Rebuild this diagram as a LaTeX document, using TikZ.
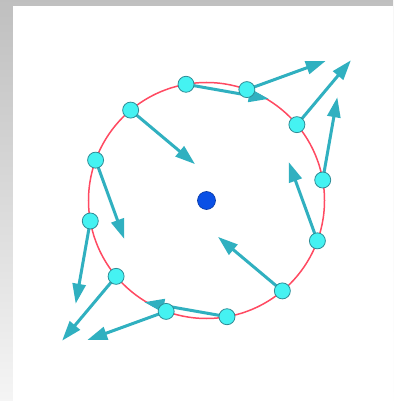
\documentclass[tikz,border=0pt]{standalone}
\usepackage{tikz}
\usetikzlibrary{arrows.meta,calc}
\definecolor{ring}{HTML}{FF4A62}
\definecolor{vec}{HTML}{30B0C0}
\definecolor{dotfill}{HTML}{45F2F2}
\definecolor{dotline}{HTML}{2E8C96}
\definecolor{core}{HTML}{0A50E6}
\tikzset{vecarrow/.style={-{Triangle[length=20pt,width=13pt]},draw=vec,line width=3pt},ringline/.style={draw=ring,line width=1.5pt},samplept/.style={circle,draw=dotline,fill=dotfill,line width=.8pt,minimum size=16pt,inner sep=0pt},centre/.style={circle,draw=core!70!black,fill=core,line width=.6pt,minimum size=18pt,inner sep=0pt}}
\begin{document}
\begin{tikzpicture}[x=1pt,y=1pt]
\useasboundingbox (-206.5,-200.5) rectangle (186.5,200.5);
\shade[top color=gray!50,bottom color=gray!8] (-206.5,-200.5) rectangle (186.5,200.5);\fill[white] (-193.5,-200.5) rectangle (186.5,194.5);
\draw[ringline] (0,0) circle (118);
\node[centre] (c) at (0,0) {};
% field (y,x) sampled on the circle
\foreach \a in {10,40,...,340}{\coordinate (p\a) at (\a:118);\coordinate (t\a) at ({118*cos(\a)+84*sin(\a)},{118*sin(\a)+84*cos(\a)});\draw[vecarrow] (p\a)--(t\a);}
\foreach \a in {10,40,...,340}{\node[samplept] (s\a) at (p\a) {};}
\end{tikzpicture}
\end{document}
